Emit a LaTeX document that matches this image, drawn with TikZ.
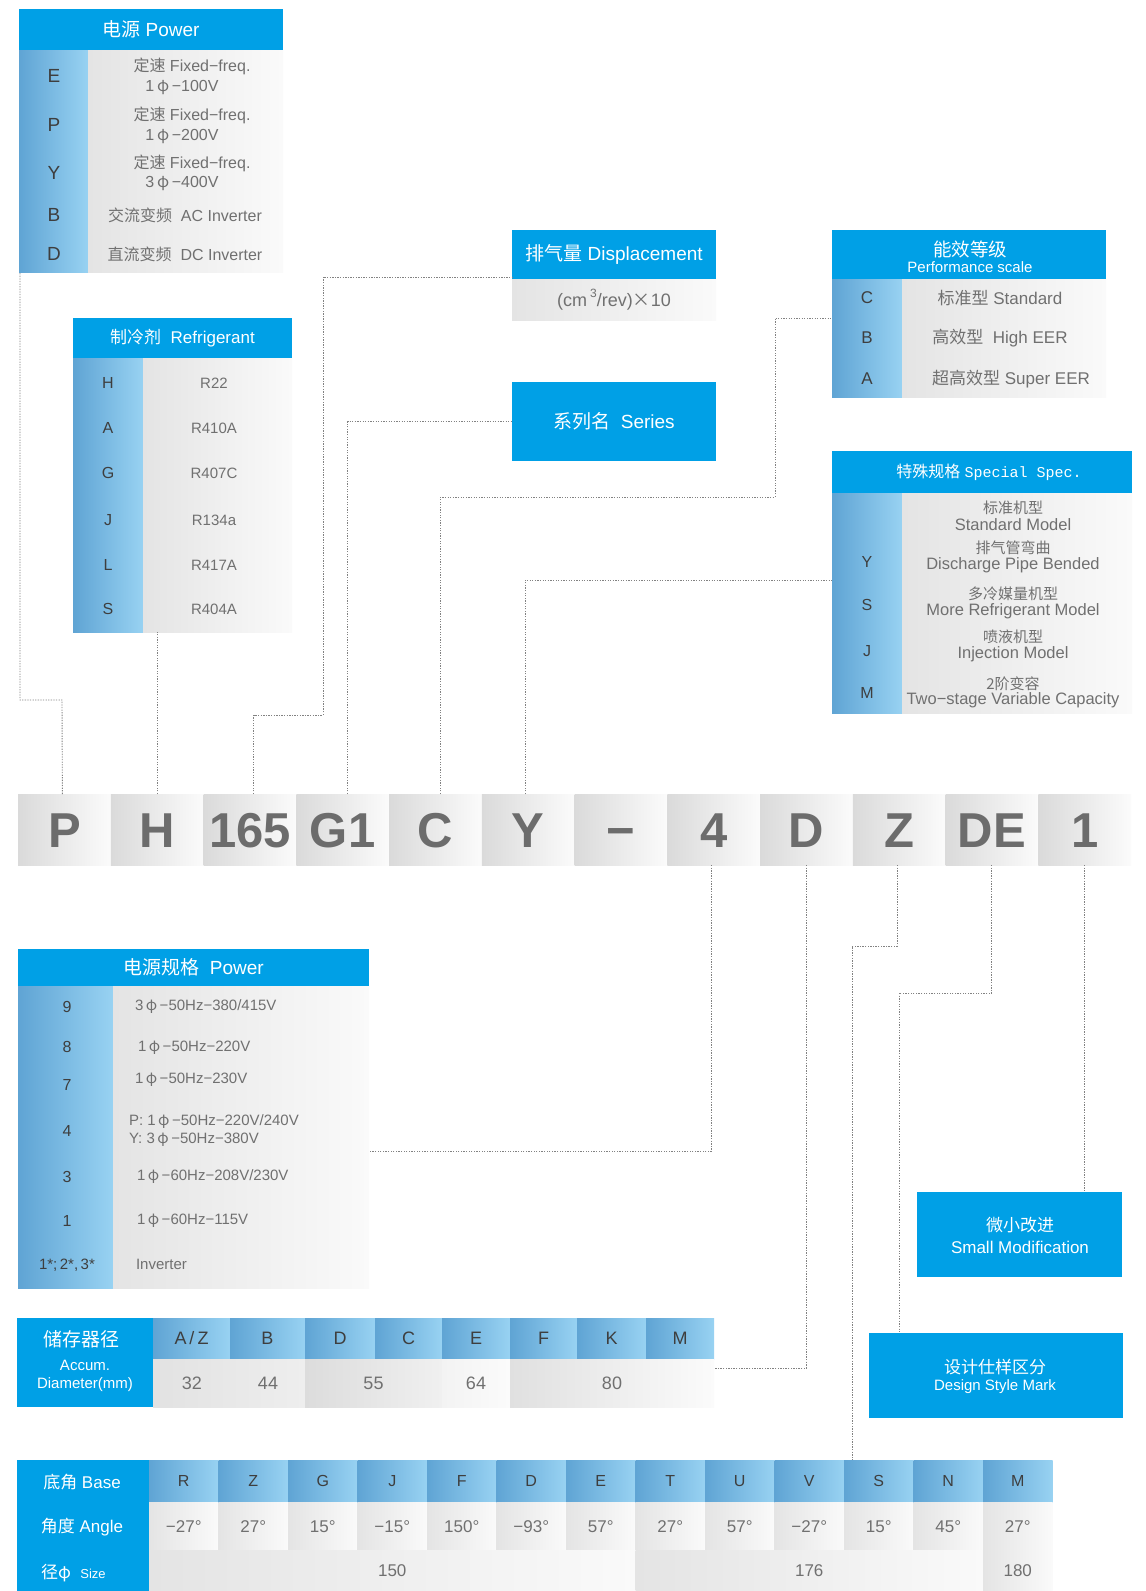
\documentclass[tikz,border=0pt]{standalone}
\usepackage{fontspec}
\setmainfont{Liberation Sans}
\newfontfamily\zhf{Noto Sans CJK SC}
\newfontfamily\monof{Liberation Mono}
\usetikzlibrary{calc}
\definecolor{hblue}{RGB}{0,160,230}
\definecolor{cl}{RGB}{95,164,212}
\definecolor{cr}{RGB}{152,210,242}
\definecolor{gl}{RGB}{228,228,228}
\definecolor{gr}{RGB}{250,250,250}
\definecolor{kl}{RGB}{218,218,218}
\definecolor{kr}{RGB}{251,251,251}
\definecolor{txt}{RGB}{112,112,112}
\definecolor{dk}{RGB}{62,62,62}
\definecolor{codet}{RGB}{108,108,108}
\definecolor{conc}{RGB}{130,130,130}
\newcommand\zh[1]{{\zhf #1}}
\newcommand\fs[1]{\fontsize{#1}{#1}\selectfont}
\newcommand\ph{\,{\zhf φ}\,}
\newcommand\AZ{A\,/\,Z}
\begin{document}
\begin{tikzpicture}[x=1pt,y=-1pt,
  every node/.style={inner sep=0pt, outer sep=0pt},
  hdr/.style={anchor=north west, fill=hblue, text=white, align=center},
  lcol/.style={anchor=north west, left color=cl, right color=cr},
  gbody/.style={anchor=north west, left color=gl, right color=gr},
  codebox/.style={anchor=north west, left color=kl, right color=kr, minimum width=92.75pt, minimum height=71pt, text=codet, font=\fs{49}\bfseries, text height=35pt, text depth=0pt},
  ltr/.style={text=dk},
  btx/.style={text=txt},
  conn/.style={draw=conc, line width=0.9pt, dash pattern=on 1.3pt off 1.3pt},
]
\fill[white] (0,0) rectangle (1146,1591);
\useasboundingbox (0,0) rectangle (1146,1591);

% ---------- Power (top left)
\node[hdr, minimum width=264pt, minimum height=41pt, font=\fs{19}] (powH) at (19,9) {\zh{电源} Power};
\node[lcol, minimum width=69pt, minimum height=222pt] (powL) at (19,50) {};
\node[gbody, minimum width=195pt, minimum height=222pt] (powB) at (88,50) {};
\foreach \l/\y in {E/76,P/125,Y/173,B/215,D/254}
  \node[ltr, font=\fs{19}] (pw\l) at (54,\y) {\l};
\node[btx, font=\fs{16}] (pwE1) at (192,66) {\zh{定速} Fixed−freq.};
\node[btx, font=\fs{16}] (pwE2) at (182,88) {1\ph−100V};
\node[btx, font=\fs{16}] (pwP1) at (192,115) {\zh{定速} Fixed−freq.};
\node[btx, font=\fs{16}] (pwP2) at (182,137) {1\ph−200V};
\node[btx, font=\fs{16}] (pwY1) at (192,163) {\zh{定速} Fixed−freq.};
\node[btx, font=\fs{16}] (pwY2) at (182,184) {3\ph−400V};
\node[btx, font=\fs{16}] (pwB1) at (185,215) {\zh{交流变频}\ \ AC Inverter};
\node[btx, font=\fs{16}] (pwD1) at (185,254) {\zh{直流变频}\ \ DC Inverter};

% ---------- Refrigerant
\node[hdr, minimum width=219pt, minimum height=40pt, font=\fs{17}] (refH) at (73,318) {\zh{制冷剂}\ \ Refrigerant};
\node[lcol, minimum width=70pt, minimum height=274pt] (refL) at (73,358) {};
\node[gbody, minimum width=149pt, minimum height=274pt] (refB) at (143,358) {};
\foreach \l/\v/\y in {H/R22/383, A/R410A/428, G/R407C/473, J/R134a/520, L/R417A/565, S/R404A/609} {
  \node[ltr, font=\fs{16}] (rf\l) at (108,\y) {\l};
  \node[btx, font=\fs{15}] (rv\l) at (214,\y) {\v};
}

% ---------- Displacement
\node[hdr, minimum width=204pt, minimum height=49pt, font=\fs{19}] (dispH) at (512,230) {\zh{排气量} Displacement};
\node[gbody, minimum width=204pt, minimum height=41pt, font=\fs{18}, text=txt] (dispB) at (512,279) {(cm\,\raisebox{0.5em}{\fs{12}3}/rev)\zh{×}10};

% ---------- Series
\node[hdr, minimum width=204pt, minimum height=79pt, font=\fs{19}] (ser) at (512,382) {\zh{系列名}\ \ Series};

% ---------- Performance scale
\node[hdr, minimum width=274pt, minimum height=49pt] (perfH) at (832,230) {};
\node[text=white, font=\fs{18.5}] (perfH1) at (970,249) {\zh{能效等级}};
\node[text=white, font=\fs{15}] (perfH2) at (970,267) {Performance scale};
\node[lcol, minimum width=70pt, minimum height=118pt] (perfL) at (832,279) {};
\node[gbody, minimum width=204pt, minimum height=118pt] (perfB) at (902,279) {};
\foreach \l/\y in {C/298,B/338,A/379}
  \node[ltr, font=\fs{17}] (pf\l) at (867,\y) {\l};
\node[btx, font=\fs{17}] (pfC1) at (1000,298) {\zh{标准型} Standard};
\node[btx, font=\fs{17}] (pfB1) at (1000,338) {\zh{高效型}\ \ High EER};
\node[btx, font=\fs{17}] (pfA1) at (1011,379) {\zh{超高效型} Super EER};

% ---------- Special spec
\node[hdr, minimum width=300pt, minimum height=42pt] (specH) at (832,451) {};
\node[text=white] (specH1) at (989,472) {\fs{16}\zh{特殊规格} {\monof\fs{15}Special Spec.}};
\node[lcol, minimum width=70pt, minimum height=220pt] (specL) at (832,493) {};
\node[gbody, minimum width=230pt, minimum height=220pt] (specB) at (902,493) {};
\foreach \l/\y in {Y/562,S/605,J/651,M/693}
  \node[ltr, font=\fs{16}] (sp\l) at (867,\y) {\l};
\node[btx, font=\fs{15}] (sp1a) at (1013,508) {\zh{标准机型}};
\node[btx, font=\fs{16.5}] (sp1b) at (1013,525) {Standard Model};
\node[btx, font=\fs{15}] (sp2a) at (1013,548) {\zh{排气管弯曲}};
\node[btx, font=\fs{16.5}] (sp2b) at (1013,565) {Discharge Pipe Bended};
\node[btx, font=\fs{15}] (sp3a) at (1013,594) {\zh{多冷媒量机型}};
\node[btx, font=\fs{16.5}] (sp3b) at (1013,611) {More Refrigerant Model};
\node[btx, font=\fs{15}] (sp4a) at (1013,637) {\zh{喷液机型}};
\node[btx, font=\fs{16.5}] (sp4b) at (1013,654) {Injection Model};
\node[btx, font=\fs{15}] (sp5a) at (1013,684) {\zh{2阶变容}};
\node[btx, font=\fs{16.5}] (sp5b) at (1013,700) {Two−stage Variable Capacity};

% ---------- Model code row
\foreach \t [count=\i] in {P,H,165,G1,C,Y,−,4,D,Z,DE,1}
  \node[codebox] (c\i) at ({18+92.75*(\i-1)},794) {\t};

% ---------- Power spec
\node[hdr, minimum width=351pt, minimum height=37pt, font=\fs{19}] (psH) at (18,949) {\zh{电源规格}\ \ Power};
\node[lcol, minimum width=95pt, minimum height=302pt] (psL) at (18,986) {};
\node[gbody, minimum width=256pt, minimum height=302pt] (psB) at (113,986) {};
\foreach \l/\y [count=\i] in {9/1007,8/1047,7/1085,4/1131,3/1177,1/1221}
  \node[ltr, font=\fs{16}] (pn\i) at (67,\y) {\l};
\node[ltr, font=\fs{15}] (pn7) at (67,1265) {1*;\,2*,\,3*};
\node[btx, font=\fs{15}, anchor=west] (pt1) at (135,1007) {3\ph−50Hz−380/415V};
\node[btx, font=\fs{15}, anchor=west] (pt2) at (138,1048) {1\ph−50Hz−220V};
\node[btx, font=\fs{15}, anchor=west] (pt3) at (135,1080) {1\ph−50Hz−230V};
\node[btx, font=\fs{15}, anchor=west] (pt4a) at (129,1122) {P: 1\ph−50Hz−220V/240V};
\node[btx, font=\fs{15}, anchor=west] (pt4b) at (129,1140) {Y: 3\ph−50Hz−380V};
\node[btx, font=\fs{15}, anchor=west] (pt5) at (137,1177) {1\ph−60Hz−208V/230V};
\node[btx, font=\fs{15}, anchor=west] (pt6) at (137,1221) {1\ph−60Hz−115V};
\node[btx, font=\fs{15}, anchor=west] (pt7) at (136,1264) {Inverter};

% ---------- Accumulator diameter
\node[hdr, minimum width=136pt, minimum height=89pt] (accL) at (17,1318) {};
\node[text=white, font=\fs{19}] (accL1) at (81,1339) {\zh{储存器径}};
\node[text=white, font=\fs{15}] (accL2) at (85,1365) {Accum.};
\node[text=white, font=\fs{15}] (accL3) at (85,1385) {Diameter(mm)};
\foreach \l/\xa/\xb [count=\i] in {\AZ/153/230, B/230/305, D/305/375, C/375/442, E/442/510, F/510/577, K/577/646, M/646/714}
  \node[lcol, minimum width={(\xb-\xa)*1pt}, minimum height=41pt, font=\fs{18}, text=dk] (ah\i) at (\xa,1318) {\l};
\node[anchor=north west, left color={rgb,255:red,226;green,226;blue,226}, right color={rgb,255:red,238;green,238;blue,238}, minimum width=152pt, minimum height=48pt] (acc3244) at (153,1359) {};
\node[btx, font=\fs{18}] (acc32) at (192,1383) {32};
\node[btx, font=\fs{18}] (acc44) at (268,1383) {44};
\node[anchor=north west, left color={rgb,255:red,220;green,220;blue,220}, right color={rgb,255:red,240;green,240;blue,240}, minimum width=137pt, minimum height=48pt, font=\fs{18}, text=txt] (acc55) at (305,1359) {55};
\node[anchor=north west, left color={rgb,255:red,243;green,243;blue,243}, right color={rgb,255:red,251;green,251;blue,251}, minimum width=68pt, minimum height=48pt, font=\fs{18}, text=txt] (acc64) at (442,1359) {64};
\node[anchor=north west, left color={rgb,255:red,224;green,224;blue,224}, right color={rgb,255:red,251;green,251;blue,251}, minimum width=204pt, minimum height=48pt, font=\fs{18}, text=txt] (acc80) at (510,1359) {80};

% ---------- Base
\node[hdr, minimum width=132pt, minimum height=131pt] (baseL) at (17,1460) {};
\node[text=white, font=\fs{17}] (baseL1) at (82,1482) {\zh{底角} Base};
\node[text=white, font=\fs{17}] (baseL2) at (82,1527) {\zh{角度} Angle};
\node[text=white, font=\fs{17}, anchor=west] (baseL3) at (41,1573) {\zh{径}{\zhf φ}\ \ {\fs{13}Size}};
\foreach \h/\a [count=\i] in {R/−27°,Z/27°,G/15°,J/−15°,F/150°,D/−93°,E/57°,T/27°,U/57°,V/−27°,S/15°,N/45°,M/27°} {
  \node[lcol, minimum width=69.5pt, minimum height=42pt, font=\fs{16}, text=dk, text height=11.5pt, text depth=0pt] (bh\i) at ({149+69.5*(\i-1)},1460) {\h};
  \node[gbody, minimum width=69.5pt, minimum height=48pt, font=\fs{17}, text=txt, text height=12.5pt, text depth=0pt] (ba\i) at ({149+69.5*(\i-1)},1502) {\a};
}
\node[gbody, minimum width=486.5pt, minimum height=41pt, font=\fs{17}, text=txt] (bs150) at (149,1550) {150};
\node[gbody, minimum width=347.5pt, minimum height=41pt, font=\fs{17}, text=txt] (bs176) at (635.5,1550) {176};
\node[gbody, minimum width=69.5pt, minimum height=41pt, font=\fs{17}, text=txt] (bs180) at (983,1550) {180};

% ---------- Small modification / design style
\node[hdr, minimum width=205pt, minimum height=85pt] (smod) at (917,1192) {};
\node[text=white, font=\fs{17}] (smod1) at (1020,1225) {\zh{微小改进}};
\node[text=white, font=\fs{17}] (smod2) at (1020,1247) {Small Modification};
\node[hdr, minimum width=254pt, minimum height=85pt] (des) at (869,1333) {};
\node[text=white, font=\fs{17}] (des1) at (995,1367) {\zh{设计仕样区分}};
\node[text=white, font=\fs{15}] (des2) at (995,1387) {Design Style Mark};

% ---------- Connectors
\coordinate (k1) at (62,700);
\coordinate (k3) at (323,715);
\coordinate (k5) at (775,497);
\coordinate (k10) at (852,946);
\coordinate (k11) at (899,993);
\draw[conn] ([xshift=-2pt]c1.north) -- (k1) -| ([xshift=1pt]powL.south west);
\draw[conn] (c2.north) -- (c2.north |- refB.south);
\draw[conn] ([xshift=4pt]c3.north) |- (k3) |- ([yshift=2pt]dispH.south west);
\draw[conn] ([xshift=5pt]c4.north) |- (ser.west);
\draw[conn] ([xshift=5pt]c5.north) |- (k5) |- ([yshift=20pt]perfL.west);
\draw[conn] ([xshift=-3pt]c6.north) |- ([yshift=23pt]specL.west);
\draw[conn] ([xshift=-2pt]c8.south) |- ([yshift=-14pt]psB.east);
\draw[conn] (c9.south) |- ([yshift=15pt]acc80.east);
\draw[conn] ([xshift=-2pt]c10.south) |- (k10) -- (k10 |- bh11.north);
\draw[conn] (c11.south) |- (k11) -- (k11 |- des.north);
\draw[conn] (c12.south) -- (c12.south |- smod.north);
\end{tikzpicture}
\end{document}
